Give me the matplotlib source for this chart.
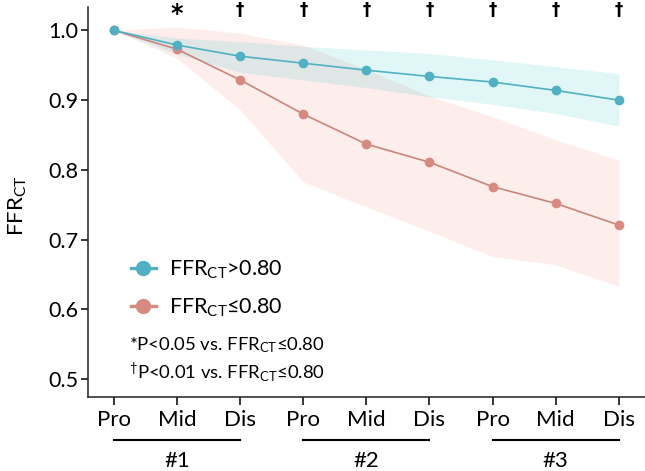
import numpy as np
import matplotlib
matplotlib.use("Agg")
import matplotlib.pyplot as plt
from matplotlib.lines import Line2D

plt.rcParams["font.family"] = ["Lato", "DejaVu Sans"]
plt.rcParams["mathtext.default"] = "regular"

# ── data ──────────────────────────────────────────────────────────────────────
segments = ["Pro", "Mid", "Dis", "Pro", "Mid", "Dis", "Pro", "Mid", "Dis"]
vessels = ["#1", "#2", "#3"]

high_mean = [1.0, 0.979, 0.963, 0.953, 0.943, 0.934, 0.926, 0.914, 0.900]
high_upper = [1.0, 0.989, 0.984, 0.977, 0.972, 0.967, 0.958, 0.948, 0.938]
high_lower = [1.0, 0.966, 0.940, 0.929, 0.918, 0.905, 0.894, 0.881, 0.863]

low_mean = [1.0, 0.973, 0.929, 0.880, 0.837, 0.811, 0.776, 0.752, 0.721]
low_upper = [1.0, 1.005, 0.996, 0.979, 0.944, 0.906, 0.876, 0.843, 0.814]
low_lower = [1.0, 0.960, 0.886, 0.783, 0.747, 0.712, 0.676, 0.664, 0.633]

# significance marks above each segment (None = no mark)
sig_marks = [None, "*", "†", "†", "†", "†", "†", "†", "†"]

# ── styling ───────────────────────────────────────────────────────────────────
blue = "#4FB1C3"
red = "#D88A80"
red_line = "#C9857B"

x = np.arange(len(segments))

fig = plt.figure(figsize=(6.45, 4.71), dpi=100)
ax = fig.add_axes([0.1364, 0.1578, 0.8636, 0.828])

ax.fill_between(x, low_lower, low_upper, color="#FDEDEB", lw=0, zorder=1)
ax.fill_between(x, high_lower, high_upper, color="#49CAD0", alpha=0.17, lw=0, zorder=2)

ax.plot(x, low_mean, color=red_line, lw=1.2, marker="o", ms=6,
        mfc=red, mec=red, zorder=3)
ax.plot(x, high_mean, color=blue, lw=1.2, marker="o", ms=6,
        mfc=blue, mec=blue, zorder=4)

ax.set_xlim(-0.412, 8.415)
ax.set_ylim(0.475, 1.034)
ax.set_yticks([0.5, 0.6, 0.7, 0.8, 0.9, 1.0])
ax.set_yticklabels([f"{v:.1f}" for v in [0.5, 0.6, 0.7, 0.8, 0.9, 1.0]])
ax.set_xticks(x)
ax.set_xticklabels(segments)

ax.spines[["top", "right"]].set_visible(False)
for s in ["left", "bottom"]:
    ax.spines[s].set_linewidth(1.1)
    ax.spines[s].set_color("#222222")
ax.tick_params(axis="y", labelsize=15.5, length=5, width=1.1, pad=2)
ax.tick_params(axis="x", labelsize=16, length=5.8, width=1.1, pad=3.5)

ax.set_ylabel("FFR$_{CT}$", fontsize=16)
ax.yaxis.set_label_coords(-0.105, 0.49)

# significance symbols, hung from the top edge of the figure
for xi, m in zip(x, sig_marks):
    if m:
        ax.annotate(m, xy=(xi, 470 if m == "†" else 469),
                    xycoords=("data", "figure pixels"), ha="center", va="top",
                    fontsize=12 if m == "†" else 17, fontweight="bold",
                    family="DejaVu Sans", annotation_clip=False)

# vessel group brackets under the ticks
trans = ax.get_xaxis_transform()
for i, name in enumerate(vessels):
    x0, x1 = x[3 * i], x[3 * i + 2]
    ax.add_line(Line2D([x0, x1], [-0.111, -0.111], transform=trans,
                       color="black", lw=1.5, clip_on=False))
    ax.text((x0 + x1) / 2, -0.166, name, transform=trans, ha="center",
            va="center", fontsize=16)

# legend
handles = [
    Line2D([], [], color=blue, lw=2.4, marker="o", ms=10, mfc=blue, mec=blue),
    Line2D([], [], color=red, lw=2.4, marker="o", ms=10, mfc=red, mec=red),
]
ax.legend(handles, ["FFR$_{CT}$>0.80", "FFR$_{CT}$≤0.80"], loc="upper left",
          bbox_to_anchor=(0.061, 0.377), frameon=False, fontsize=15.5,
          handlelength=1.2, handletextpad=0.6, labelspacing=0.75,
          borderaxespad=0)

# footnotes
ax.text(0.425, 0.131, "*P<0.05 vs. FFR$_{CT}$≤0.80", transform=ax.transAxes,
        ha="right", va="center", fontsize=13.3)
ax.text(0.425, 0.064, "$^{†}$P<0.01 vs. FFR$_{CT}$≤0.80", transform=ax.transAxes,
        ha="right", va="center", fontsize=13.3)

fig.savefig("out.png", dpi=100)
